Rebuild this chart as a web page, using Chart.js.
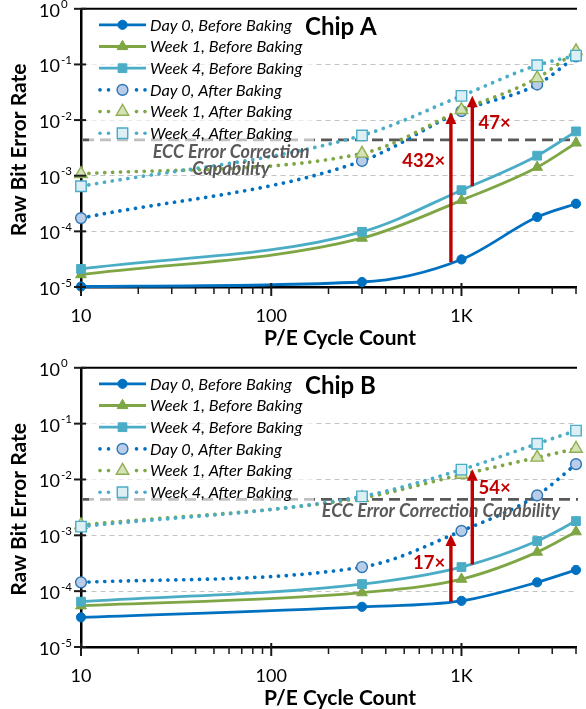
<!DOCTYPE html>
<html><head><meta charset="utf-8">
<script src="https://cdn.jsdelivr.net/npm/chart.js@4"></script>
<style>
html,body{margin:0;padding:0;background:#fff;}
#wrap{width:586px;height:709px;}
canvas{display:block;}
</style></head>
<body><div id="wrap">
<canvas id="chipA" width="586" height="359"></canvas>
<canvas id="chipB" width="586" height="350"></canvas>
</div>
<script>
// ---------- data ----------
const cycles = [10, 300, 1000, 2500, 4000];
const seriesLabels = ['Day 0, Before Baking', 'Week 1, Before Baking', 'Week 4, Before Baking',
                      'Day 0, After Baking', 'Week 1, After Baking', 'Week 4, After Baking'];
const xTickValues = [10, 100, 1000];
const xTickLabels = ['10', '100', '1K'];
const xMinorTicks = [20, 30, 40, 50, 60, 70, 80, 90, 200, 300, 400, 500, 600, 700, 800, 900, 2000, 3000, 4000];
const yTickValues = [1e-5, 1e-4, 1e-3, 1e-2, 1e-1, 1];
const yTickBase = '10';
const yTickExponents = ['-5', '-4', '-3', '-2', '-1', '0'];
const eccLabel = 'ECC Error Correction Capability';

// Chip A
const aDay0Before  = [1.02e-5, 1.23e-5, 3.13e-5, 1.81e-4, 3.14e-4];
const aWeek1Before = [1.67e-5, 7.55e-5, 3.61e-4, 1.42e-3, 3.88e-3];
const aWeek4Before = [2.11e-5, 9.8e-5, 5.5e-4, 2.29e-3, 6.26e-3];
const aDay0After   = [1.73e-4, 1.84e-3, 1.45e-2, 4.35e-2, 0.139];
const aWeek1After  = [1.08e-3, 2.51e-3, 1.52e-2, 5.7e-2, 0.174];
const aWeek4After  = [6.46e-4, 5.3e-3, 2.72e-2, 9.7e-2, 0.144];
const aEcc = 4.4e-3;
const aArrowX = [880, 1140];
const aArrowFrom = [2.8e-5, 6.5e-4];
const aArrowTo = [1.37e-2, 2.75e-2];
const aArrowLabels = ['432×', '47×'];
const aLabelX = [821, 1228];
const aLabelY = [1.46e-3, 6.95e-3];

// Chip B
const bDay0Before  = [3.4e-5, 5.25e-5, 6.7e-5, 1.44e-4, 2.4e-4];
const bWeek1Before = [5.47e-5, 9.4e-5, 1.64e-4, 5.0e-4, 1.16e-3];
const bWeek4Before = [6.5e-5, 1.34e-4, 2.7e-4, 7.9e-4, 1.8e-3];
const bDay0After   = [1.44e-4, 2.7e-4, 1.2e-3, 5.2e-3, 1.88e-2];
const bWeek1After  = [1.53e-3, 4.7e-3, 1.22e-2, 2.47e-2, 3.57e-2];
const bWeek4After  = [1.43e-3, 4.98e-3, 1.5e-2, 4.37e-2, 7.5e-2];
const bEcc = 4.4e-3;
const bArrowX = [880, 1140];
const bArrowFrom = [6.5e-5, 3.0e-4];
const bArrowTo = [1.03e-3, 1.53e-2];
const bArrowLabels = ['17×', '54×'];
const bLabelX = [821, 1228];
const bLabelY = [2.47e-4, 5.4e-3];

// ---------- styles ----------
const BLUE = '#0070C0', GREEN = '#7FA645', AQUA = '#4BACC6', RED = '#C00000';
const seriesStyles = [
  {color: BLUE,  dotted: false, pointStyle: 'circle',   radius: 4.6, fill: BLUE,  stroke: BLUE,  bw: 1},
  {color: GREEN, dotted: false, pointStyle: 'triangle', radius: 6.2, fill: GREEN, stroke: GREEN, bw: 1},
  {color: AQUA,  dotted: false, pointStyle: 'rect',     radius: 6.2, fill: AQUA,  stroke: AQUA,  bw: 1},
  {color: BLUE,  dotted: true,  pointStyle: 'circle',   radius: 5.4, fill: '#B9CDE8', stroke: '#2E75B6', bw: 1.4},
  {color: GREEN, dotted: true,  pointStyle: 'triangle', radius: 7.2, fill: '#D5E2B8', stroke: '#8FB050', bw: 1.4},
  {color: AQUA,  dotted: true,  pointStyle: 'rect',     radius: 7.4, fill: '#DCEFF4', stroke: '#4BACC6', bw: 1.4}
];
const FONT = 'Lato, "Open Sans", "DejaVu Sans", sans-serif';

function drawMarker(ctx, st, x, y) {
  ctx.save();
  ctx.fillStyle = st.fill; ctx.strokeStyle = st.stroke; ctx.lineWidth = st.bw;
  ctx.beginPath();
  const r = st.radius;
  if (st.pointStyle === 'circle') ctx.arc(x, y, r, 0, Math.PI * 2);
  else if (st.pointStyle === 'triangle') {
    for (let k = 0; k < 3; k++) {
      const a = k * 2 * Math.PI / 3;
      const px = x + Math.sin(a) * r, py = y - Math.cos(a) * r;
      if (k) ctx.lineTo(px, py); else ctx.moveTo(px, py);
    }
    ctx.closePath();
  } else { const s = r * Math.SQRT1_2; ctx.rect(x - s, y - s, 2 * s, 2 * s); }
  ctx.fill(); ctx.stroke();
  ctx.restore();
}

function makeChart(id, p) {
  const canvas = document.getElementById(id);
  const H = canvas.height;
  const datasets = p.series.map((vals, i) => {
    const st = seriesStyles[i];
    return {
      label: seriesLabels[i],
      data: cycles.map((c, k) => ({x: c, y: vals[k]})),
      borderColor: st.color,
      borderWidth: st.dotted ? 3.7 : 2.8,
      borderDash: st.dotted ? [0.1, 7.8] : [],
      borderCapStyle: st.dotted ? 'round' : 'butt',
      cubicInterpolationMode: 'monotone',
      pointStyle: st.pointStyle,
      pointRadius: st.radius,
      pointBackgroundColor: st.fill,
      pointBorderColor: st.stroke,
      pointBorderWidth: st.bw,
      fill: false,
      clip: false,
      order: 5 - i
    };
  });

  const decor = {
    id: 'decor',
    beforeDatasetsDraw(chart) {
      const {ctx, chartArea: ca, scales: {y}} = chart;
      const ey = y.getPixelForValue(p.ecc);
      ctx.save();
      ctx.strokeStyle = '#595959'; ctx.lineWidth = 2.6; ctx.setLineDash([11, 6]);
      ctx.beginPath(); ctx.moveTo(ca.left + 2, ey); ctx.lineTo(ca.right + 2, ey); ctx.stroke();
      ctx.restore();
      // translucent legend backdrop
      ctx.save(); ctx.fillStyle = 'rgba(255,255,255,0.62)';
      ctx.fillRect(89, ca.top + 2, 225, 134);
      ctx.restore();
    },
    afterDatasetsDraw(chart) {
      const {ctx, chartArea: ca, scales: {x, y}} = chart;
      ctx.save();
      // top border
      ctx.strokeStyle = '#000'; ctx.lineWidth = 2;
      ctx.beginPath(); ctx.moveTo(ca.left, ca.top); ctx.lineTo(ca.right + 1, ca.top); ctx.stroke();
      // y tick marks and labels
      ctx.lineWidth = 2; ctx.strokeStyle = '#1a1a1a';
      yTickValues.forEach((v, i) => {
        const gy = y.getPixelForValue(v);
        ctx.beginPath(); ctx.moveTo(ca.left - 7, gy); ctx.lineTo(ca.left + 5, gy); ctx.stroke();
        ctx.fillStyle = '#000';
        ctx.font = '18px ' + FONT; ctx.textAlign = 'right'; ctx.textBaseline = 'alphabetic';
        ctx.fillText(yTickBase, 60, gy + 8);
        ctx.font = '11.5px ' + FONT; ctx.textAlign = 'left';
        ctx.fillText(yTickExponents[i], 61, gy - 0.5);
      });
      // x ticks
      ctx.lineWidth = 1.5; ctx.strokeStyle = '#1a1a1a';
      xMinorTicks.forEach(v => {
        const px = x.getPixelForValue(v);
        ctx.beginPath(); ctx.moveTo(px, ca.bottom); ctx.lineTo(px, ca.bottom + 7); ctx.stroke();
      });
      ctx.lineWidth = 2;
      xTickValues.forEach((v, i) => {
        const px = x.getPixelForValue(v);
        ctx.beginPath(); ctx.moveTo(px, ca.bottom - 4); ctx.lineTo(px, ca.bottom + 9); ctx.stroke();
        ctx.fillStyle = '#000'; ctx.font = '18px ' + FONT; ctx.textAlign = 'center'; ctx.textBaseline = 'alphabetic';
        ctx.fillText(xTickLabels[i], px, ca.bottom + 34.5);
      });
      // axis titles
      ctx.font = 'bold 21px ' + FONT; ctx.fillStyle = '#000'; ctx.textAlign = 'center';
      ctx.fillText('P/E Cycle Count', 340, ca.bottom + 58);
      ctx.save();
      ctx.translate(26, (ca.top + ca.bottom) / 2 + 2); ctx.rotate(-Math.PI / 2);
      ctx.fillText('Raw Bit Error Rate', 0, 0);
      ctx.restore();
      // chip title
      ctx.font = 'bold 24px ' + FONT; ctx.textAlign = 'left';
      ctx.fillText(p.title, 305, ca.top + 26);
      // ECC text
      const ey = y.getPixelForValue(p.ecc);
      ctx.font = 'italic bold 18px ' + FONT; ctx.fillStyle = '#5a5a5a'; ctx.textAlign = 'center';
      if (p.eccTwoLines) {
        const w = eccLabel.split(' ');
        ctx.fillText(w.slice(0, 3).join(' '), 231, ey + 18.5);
        ctx.fillText(w.slice(3).join(' '), 231, ey + 35);
      } else {
        ctx.fillText(eccLabel, 441, ey + 17.7);
      }
      // arrows
      ctx.strokeStyle = RED; ctx.fillStyle = RED;
      p.arrowX.forEach((ax, i) => {
        const px = x.getPixelForValue(ax);
        const y0 = y.getPixelForValue(p.arrowFrom[i]);
        const y1 = y.getPixelForValue(p.arrowTo[i]);
        ctx.lineWidth = 3.4;
        ctx.beginPath(); ctx.moveTo(px, y0); ctx.lineTo(px, y1 + 9); ctx.stroke();
        ctx.beginPath(); ctx.moveTo(px, y1); ctx.lineTo(px - 5.5, y1 + 11.5); ctx.lineTo(px + 5.5, y1 + 11.5); ctx.closePath(); ctx.fill();
        ctx.font = 'bold 18.5px ' + FONT;
        ctx.textAlign = p.labelX[i] < ax ? 'right' : 'left';
        ctx.fillText(p.arrowLabels[i], x.getPixelForValue(p.labelX[i]), y.getPixelForValue(p.labelY[i]));
      });
      // legend
      seriesStyles.forEach((st, i) => {
        const ly = ca.top + 16 + i * 21.7;
        ctx.strokeStyle = st.color; ctx.fillStyle = st.color;
        if (st.dotted) {
          [100, 108.5, 136.5, 145].forEach(dx => { ctx.beginPath(); ctx.arc(dx, ly, 1.8, 0, Math.PI * 2); ctx.fill(); });
        } else {
          ctx.lineWidth = 2.8; ctx.beginPath(); ctx.moveTo(99, ly); ctx.lineTo(146, ly); ctx.stroke();
        }
        drawMarker(ctx, st, 122.5, ly);
        ctx.fillStyle = '#000'; ctx.font = 'italic 16.3px ' + FONT; ctx.textAlign = 'left'; ctx.textBaseline = 'middle';
        ctx.fillText(seriesLabels[i], 150, ly + 0.5);
        ctx.textBaseline = 'alphabetic';
      });
      ctx.restore();
    }
  };

  return new Chart(canvas, {
    type: 'line',
    data: {datasets},
    options: {
      responsive: false, animation: false, devicePixelRatio: 1,
      layout: {padding: {left: 0, right: 10, top: p.top, bottom: 0}},
      plugins: {legend: {display: false}, tooltip: {enabled: false}},
      scales: {
        x: {
          type: 'logarithmic', min: 10, max: 4000, position: 'bottom',
          afterBuildTicks: s => { s.ticks = xTickValues.map(v => ({value: v})); },
          afterFit: s => { s.height = H - p.bottom; },
          ticks: {display: false},
          grid: {display: false, drawTicks: false},
          border: {display: true, color: '#000', width: 2.5}
        },
        y: {
          type: 'logarithmic', min: 1e-5, max: 1,
          afterBuildTicks: s => { s.ticks = yTickValues.map(v => ({value: v})); },
          afterFit: s => { s.width = 81; },
          ticks: {display: false},
          grid: {color: '#c4c4c4', lineWidth: 1, drawTicks: false},
          border: {display: true, color: '#000', width: 2.5, dash: [5, 4]}
        }
      }
    },
    plugins: [decor]
  });
}

makeChart('chipA', {
  title: 'Chip A', top: 5.5, bottom: 287,
  series: [aDay0Before, aWeek1Before, aWeek4Before, aDay0After, aWeek1After, aWeek4After],
  ecc: aEcc, eccTwoLines: true,
  arrowX: aArrowX, arrowFrom: aArrowFrom, arrowTo: aArrowTo, arrowLabels: aArrowLabels,
  labelX: aLabelX, labelY: aLabelY
});
makeChart('chipB', {
  title: 'Chip B', top: 5, bottom: 288,
  series: [bDay0Before, bWeek1Before, bWeek4Before, bDay0After, bWeek1After, bWeek4After],
  ecc: bEcc, eccTwoLines: false,
  arrowX: bArrowX, arrowFrom: bArrowFrom, arrowTo: bArrowTo, arrowLabels: bArrowLabels,
  labelX: bLabelX, labelY: bLabelY
});
</script>
</body></html>
